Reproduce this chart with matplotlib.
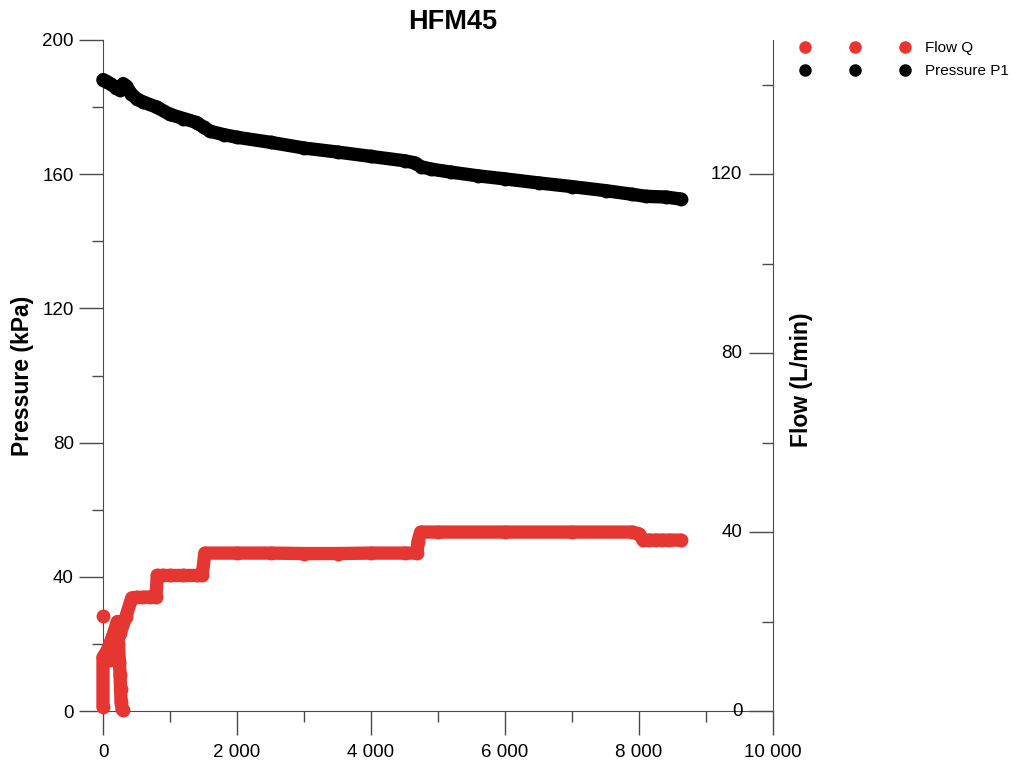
import matplotlib
matplotlib.use("Agg")
import matplotlib.pyplot as plt
from matplotlib.lines import Line2D
from matplotlib.ticker import FuncFormatter, MultipleLocator
import numpy as np

plt.rcParams['font.family'] = ['Liberation Sans', 'DejaVu Sans']

title = "HFM45"

# Pressure P1 (kPa) vs time (s)
p_time = [0, 60, 120, 200, 250, 300, 350, 420, 500, 600, 800, 1000, 1200, 1400,
          1500, 1600, 1800, 2000, 2500, 3000, 3500, 4000, 4500, 4650, 4750, 4900,
          5200, 5600, 6000, 6500, 7000, 7500, 7900, 8100, 8400, 8620]
p_kpa = [188.2, 187.6, 186.8, 185.6, 185.2, 187.0, 186.2, 184.0, 182.5, 181.5,
         180.0, 177.8, 176.6, 175.4, 174.0, 172.8, 171.8, 171.0, 169.5, 167.8,
         166.6, 165.3, 164.0, 163.4, 162.2, 161.5, 160.6, 159.5, 158.6, 157.4,
         156.3, 155.1, 154.0, 153.4, 153.2, 152.6]

# Flow Q (L/min) vs time (s); NaN separates the isolated first reading
q_time = [0, np.nan,
          0, 0, 60, 140, 215, 230, 245, 255, 262, 270, 285, 300,
          np.nan,
          110, 180, 260, 340, 430, 500, 600, 700, 790, 810, 900, 1000, 1200,
          1400, 1480, 1520, 2000, 2500, 3000, 3500, 4000, 4500, 4690, 4700,
          4740, 5000, 6000, 7000, 7900, 8000, 8060, 8150, 8250, 8350, 8450,
          8620]
q_lpm = [21.2, np.nan,
         1.0, 12.0, 13.5, 16.5, 20.0, 15.0, 11.0, 8.0, 5.0, 2.0, 0.5, 0.3,
         np.nan,
         11.5, 14.0, 17.5, 21.0, 25.3, 25.4, 25.4, 25.5, 25.5, 30.3, 30.3,
         30.3, 30.3, 30.3, 30.3, 35.3, 35.3, 35.3, 35.2, 35.2, 35.3, 35.3,
         35.3, 37.8, 40.0, 40.0, 40.0, 40.0, 40.0, 39.6, 38.2, 38.2, 38.2,
         38.2, 38.2, 38.2]

x_ticks = [0, 2000, 4000, 6000, 8000, 10000]
p_ticks = [0, 40, 80, 120, 160, 200]
q_ticks = [0, 40, 80, 120]

red = '#e63632'
grey = '#4a4a4a'

fig = plt.figure(figsize=(10.13, 7.65), dpi=100)
ax = fig.add_axes([103 / 1013, 54 / 765, 670 / 1013, 671 / 765])
ax2 = ax.twinx()

ms = 10
lw = 9.6
ax.plot(p_time, p_kpa, color='black', marker='o', markersize=ms,
        markeredgewidth=0, linewidth=lw, clip_on=False,
        solid_capstyle='round', solid_joinstyle='round', zorder=3)
ax2.plot(q_time, q_lpm, color=red, marker='o', markersize=ms,
         markeredgewidth=0, linewidth=lw, clip_on=False,
         solid_capstyle='round', solid_joinstyle='round', zorder=3)

ax.set_xlim(0, 10000)
ax.set_ylim(0, 200)
ax2.set_ylim(0, 150)

fmt = FuncFormatter(lambda v, pos: f"{int(v):,}".replace(",", " "))
ax.set_xticks(x_ticks)
ax.xaxis.set_major_formatter(fmt)
ax.xaxis.set_minor_locator(MultipleLocator(1000))
ax.set_yticks(p_ticks)
ax.yaxis.set_minor_locator(MultipleLocator(20))
ax2.set_yticks(q_ticks)
ax2.yaxis.set_minor_locator(MultipleLocator(20))

for s in ['top', 'right']:
    ax.spines[s].set_visible(False)
for s in ['top', 'left', 'bottom']:
    ax2.spines[s].set_visible(False)
for s in ['left', 'bottom']:
    ax.spines[s].set_color(grey)
ax2.spines['right'].set_color(grey)

ax.tick_params(which='major', direction='out', length=17, width=1, color=grey,
               labelsize=13.5, pad=4)
ax.tick_params(which='minor', direction='out', length=8, width=1, color=grey)
ax.tick_params(axis='x', which='major', pad=7)
ax2.tick_params(which='major', direction='in', length=17, width=1, color=grey,
                labelright=False, labelleft=False)
ax2.tick_params(which='minor', direction='in', length=8, width=1, color=grey)
# right-axis labels drawn inside, left of the ticks
for v in q_ticks:
    ax2.annotate(str(v), xy=(1, v), xycoords=('axes fraction', 'data'),
                 xytext=(-22, 0), textcoords='offset points',
                 ha='right', va='center', fontsize=13.5)

ax.set_ylabel("Pressure (kPa)", fontsize=16.5, fontweight='bold', labelpad=6)
fig.text(801 / 1013, (765 - 380) / 765, "Flow (L/min)", rotation=90,
         fontsize=16.5, fontweight='bold', ha='center', va='center')
fig.text(453 / 1013, (765 - 22) / 765, title, fontsize=19.5, fontweight='bold',
         ha='center', va='center')

handles = [Line2D([], [], color=red, marker='o', linestyle='none', markersize=9,
                  markeredgewidth=0),
           Line2D([], [], color='black', marker='o', linestyle='none',
                  markersize=9, markeredgewidth=0)]
fig.legend(handles, ["Flow Q", "Pressure P1"], loc='upper left',
           bbox_to_anchor=(800 / 1013, (765 - 41) / 765), frameon=False,
           numpoints=3, handlelength=7.15, handletextpad=1.0, fontsize=11,
           labelspacing=0.6, borderaxespad=0, borderpad=0)

fig.savefig("out.png", dpi=100)
